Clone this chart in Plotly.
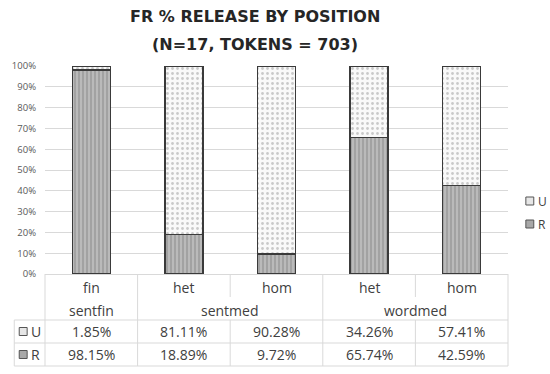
import plotly.graph_objects as go

categories = ["fin", "het", "hom", "het", "hom"]
groups = ["sentfin", "sentmed", "sentmed", "wordmed", "wordmed"]
u_values = [1.85, 81.11, 90.28, 34.26, 57.41]
r_values = [98.15, 18.89, 9.72, 65.74, 42.59]
series_names = ["U", "R"]
title_lines = ["FR % RELEASE BY POSITION", "(N=17, TOKENS = 703)"]

W, H = 550, 374
L, R_, T, B = 41, 42, 66, 100
pw, ph = W - L - R_, H - T - B

def py(pix):  # pixel y -> paper y
    return (H - B - pix) / ph

def px(pix):  # pixel x -> paper x
    return (pix - L) / pw

x = list(range(len(categories)))
n = len(categories)

R_BG, R_FG = "#bababa", "#7c7c7c"
U_BG, U_FG = "#f9f9f9", "#9a9a9a"
EDGE = "#3a3a3a"
TXT = "#404040"
GRID = "#d9d9d9"
FONT = "Open Sans"

fig = go.Figure()
fig.add_trace(go.Bar(
    x=x, y=r_values, name="R", width=0.41,
    marker=dict(color=R_BG, line=dict(color=EDGE, width=1.5),
                pattern=dict(shape="|", fgcolor=R_FG, bgcolor=R_BG, size=4, solidity=0.4)),
    showlegend=False,
))
fig.add_trace(go.Bar(
    x=x, y=u_values, name="U", width=0.41,
    marker=dict(color=U_BG, line=dict(color=EDGE, width=1.5),
                pattern=dict(shape=".", fgcolor=U_FG, bgcolor=U_BG, size=5, solidity=0.25)),
    showlegend=False,
))

shapes = []
def hline(y, x0, x1):
    shapes.append(dict(type="line", xref="paper", yref="paper", x0=x0, x1=x1, y0=y, y1=y,
                       line=dict(color=GRID, width=1)))
def vline(xv, y0, y1):
    shapes.append(dict(type="line", xref="paper", yref="paper", x0=xv, x1=xv, y0=y0, y1=y1,
                       line=dict(color=GRID, width=1)))

y_top = py(274)
y_r1 = py(320)
y_r2 = py(343)
y_r3 = py(366)
y_half = py(297)
x_left = px(10)

hline(y_r1, x_left, 1)
hline(y_r2, x_left, 1)
hline(y_r3, x_left, 1)
vline(x_left, y_r1, y_r3)
vline(0, y_top, y_r3)
vline(1, y_top, y_r3)
for k in range(1, n):
    if groups[k] != groups[k - 1]:
        vline(k / n, y_top, y_r3)
    else:
        vline(k / n, y_top, y_half)
        vline(k / n, y_r1, y_r3)

annotations = []
tfont = dict(family=FONT, size=14, color=TXT)

def ann(xp, yp, text, font, xanchor="center"):
    annotations.append(dict(x=xp, y=yp, xref="paper", yref="paper", text=text, showarrow=False,
                            xanchor=xanchor, yanchor="middle", font=font))

for i in range(n):
    cx = (i + 0.5) / n
    ann(cx, py(287), categories[i], tfont)
    ann(cx, py(331.5), f"{u_values[i]:.2f}%", tfont)
    ann(cx, py(354.5), f"{r_values[i]:.2f}%", tfont)
# group labels
start = 0
for k in range(1, n + 1):
    if k == n or groups[k] != groups[start]:
        cx = (start + k) / 2 / n
        ann(cx, py(310), groups[start], tfont)
        start = k

# table legend keys
for name, ypix, bg in [("U", 331.5, "#e6e6e6"), ("R", 354.5, "#a8a8a8")]:
    shapes.append(dict(type="rect", xref="paper", yref="paper",
                       x0=px(15), x1=px(23), y0=py(ypix - 4), y1=py(ypix + 4),
                       fillcolor=bg, line=dict(color="#555555", width=1)))
    ann(px(25), py(ypix), name, tfont, xanchor="left")

# right legend
for name, ypix, bg in [("U", 201, "#e6e6e6"), ("R", 224, "#a8a8a8")]:
    shapes.append(dict(type="rect", xref="paper", yref="paper",
                       x0=px(526), x1=px(534), y0=py(ypix - 4), y1=py(ypix + 4),
                       fillcolor=bg, line=dict(color="#555555", width=1)))
    ann(px(536), py(ypix), name, dict(family=FONT, size=12, color=TXT), xanchor="left")

# title lines
for line, ypix in zip(title_lines, [17, 45]):
    ann(px(253), py(ypix), f"<b>{line}</b>", dict(family="DejaVu Sans", size=16, color="#262626"))

fig.update_layout(
    width=W, height=H,
    margin=dict(l=L, r=R_, t=T, b=B, pad=0),
    barmode="stack",
    plot_bgcolor="white", paper_bgcolor="white",
    showlegend=False,
    shapes=shapes,
    annotations=annotations,
    xaxis=dict(range=[-0.5, n - 0.5], showticklabels=False, showgrid=False, zeroline=False,
               showline=True, linecolor=GRID, linewidth=1, ticks=""),
    yaxis=dict(range=[0, 100], dtick=10, ticksuffix="%", showgrid=True, gridcolor=GRID, gridwidth=1,
               zeroline=False, showline=False, ticks="", ticklabelstandoff=8,
               tickfont=dict(family=FONT, size=9.5, color="#595959")),
)

fig.write_html("out.html", config={"displayModeBar": False},
               post_script="document.body.style.margin='0';document.body.style.overflow='hidden';")
